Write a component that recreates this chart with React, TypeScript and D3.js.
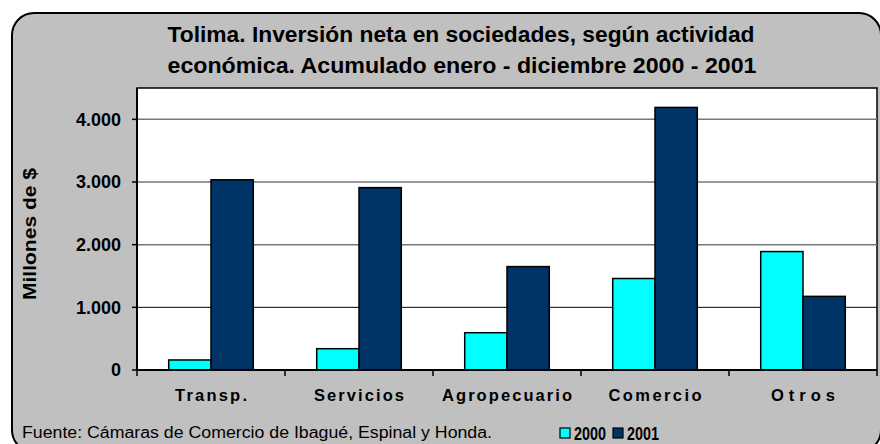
import React from 'react';
import { scaleBand, scaleLinear } from 'd3';

// datos (millones de $)
const categorias = ['Transp.', 'Servicios', 'Agropecuario', 'Comercio', 'Otros'];
const series = ['2000', '2001'];
const valores2000 = [160, 340, 595, 1460, 1890];
const valores2001 = [3035, 2910, 1650, 4190, 1175];
const ticksY = [0, 1000, 2000, 3000, 4000];
const etiquetasY = ['0', '1.000', '2.000', '3.000', '4.000'];
const colores = ['#00FFFF', '#003366'];
// ancho medido de cada rótulo (con espaciado de letras)
const anchoRotulos = [72, 90, 130, 93, 64];

const titulo1 = 'Tolima. Inversión neta en sociedades, según actividad';
const titulo2 = 'económica. Acumulado enero - diciembre 2000 - 2001';
const fuente = 'Fuente: Cámaras de Comercio de Ibagué, Espinal y Honda.';

const W = 880;
const H = 444;
const plot = { left: 137, right: 877, top: 88, bottom: 370 };
const FONT = '"Liberation Sans", Arial, sans-serif';

const App = () => {
  const x0 = scaleBand().domain(categorias).range([plot.left, plot.right]).paddingInner(0).paddingOuter(0);
  const x1 = scaleBand().domain(series).range([0, x0.bandwidth()]).paddingInner(0).paddingOuter(0.75);
  const y = scaleLinear().domain([0, 4500]).range([plot.bottom, plot.top]);

  const datos = [valores2000, valores2001];
  const bordes = [...categorias.map((c) => x0(c) as number), plot.right];

  return (
    <div style={{ position: 'absolute', left: 0, top: 0 }}>
      <svg width={W} height={H} style={{ display: 'block', fontFamily: FONT }}>
        <rect x={0} y={0} width={W} height={H} fill="#fff" />
        <rect x={12} y={13} width={869} height={439} rx={22} ry={22} fill="#C0C0C0" stroke="#000" strokeWidth={2} />

        {/* título */}
        <text x={461} y={42} textAnchor="middle" fontSize={22} fontWeight="bold" textLength={587} lengthAdjust="spacingAndGlyphs">
          {titulo1}
        </text>
        <text x={462} y={73} textAnchor="middle" fontSize={22} fontWeight="bold" textLength={589} lengthAdjust="spacingAndGlyphs">
          {titulo2}
        </text>

        {/* área del gráfico */}
        <rect x={plot.left} y={plot.top} width={plot.right - plot.left} height={plot.bottom - plot.top} fill="#fff" stroke="#000" strokeWidth={1.5} />

        {ticksY.slice(1).map((t) => (
          <line key={t} x1={plot.left} x2={plot.right} y1={y(t)} y2={y(t)} stroke={t === 1000 ? '#000' : '#777'} strokeWidth={t === 1000 ? 1 : 1.5} />
        ))}

        {categorias.map((c, i) =>
          series.map((s, j) => (
            <rect
              key={c + s}
              x={(x0(c) as number) + (x1(s) as number)}
              y={y(datos[j][i])}
              width={x1.bandwidth()}
              height={y(0) - y(datos[j][i])}
              fill={colores[j]}
              stroke="#000"
              strokeWidth={1.5}
            />
          ))
        )}

        {/* eje Y */}
        <line x1={plot.left} x2={plot.left} y1={plot.top} y2={plot.bottom + 1} stroke="#000" strokeWidth={2} />
        {ticksY.map((t, i) => (
          <g key={t}>
            <line x1={plot.left - 5} x2={plot.left} y1={y(t)} y2={y(t)} stroke="#000" strokeWidth={1.5} />
            <text x={121} y={y(t)} dy="0.36em" textAnchor="end" fontSize={18} fontWeight="bold">
              {etiquetasY[i]}
            </text>
          </g>
        ))}
        <text transform="translate(36,234) rotate(-90)" textAnchor="middle" fontSize={18} fontWeight="bold" textLength={132} lengthAdjust="spacingAndGlyphs">
          Millones de $
        </text>

        {/* eje X */}
        <line x1={plot.left} x2={plot.right} y1={y(0)} y2={y(0)} stroke="#000" strokeWidth={2} />
        {bordes.map((b, i) => (
          <line key={i} x1={b} x2={b} y1={y(0)} y2={y(0) + 6} stroke="#000" strokeWidth={1.5} />
        ))}
        {categorias.map((c, i) => (
          <text
            key={c}
            x={(x0(c) as number) + x0.bandwidth() / 2}
            y={401}
            textAnchor="middle"
            fontSize={16.5}
            fontWeight="bold"
            textLength={anchoRotulos[i]}
            lengthAdjust="spacing"
          >
            {c}
          </text>
        ))}

        {/* fuente y leyenda */}
        <text x={22} y={438} fontSize={16} textLength={470} lengthAdjust="spacingAndGlyphs">
          {fuente}
        </text>
        {series.map((s, j) => (
          <g key={s} transform={`translate(${560 + j * 53},0)`}>
            <rect x={0} y={428} width={10} height={10} fill={colores[j]} stroke="#000" strokeWidth={1.2} />
            <text x={14} y={440} fontSize={18} fontWeight="bold" textLength={32} lengthAdjust="spacingAndGlyphs">
              {s}
            </text>
          </g>
        ))}
      </svg>
    </div>
  );
};

export default App;
